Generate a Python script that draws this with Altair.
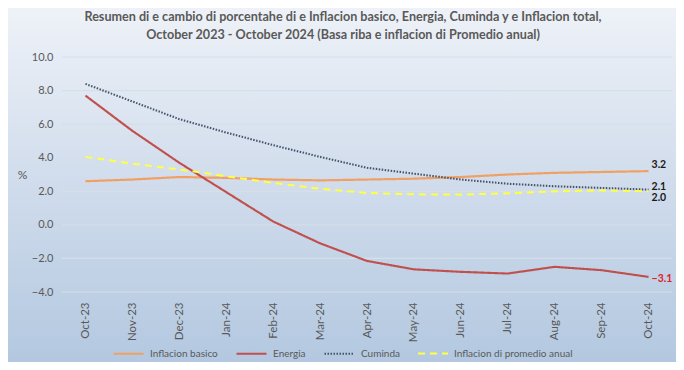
import altair as alt
import pandas as pd

months = ["Oct-23", "Nov-23", "Dec-23", "Jan-24", "Feb-24", "Mar-24", "Apr-24",
          "May-24", "Jun-24", "Jul-24", "Aug-24", "Sep-24", "Oct-24"]
series_names = ["Inflacion basico", "Energia", "Cuminda", "Inflacion di promedio anual"]
basico = [2.6, 2.7, 2.85, 2.8, 2.7, 2.65, 2.7, 2.75, 2.85, 3.0, 3.1, 3.15, 3.2]
energia = [7.7, 5.6, 3.7, 1.95, 0.2, -1.1, -2.15, -2.65, -2.8, -2.9, -2.5, -2.7, -3.1]
cuminda = [8.4, 7.35, 6.3, 5.5, 4.75, 4.05, 3.4, 3.05, 2.7, 2.45, 2.3, 2.2, 2.1]
promedio = [4.05, 3.65, 3.3, 2.9, 2.5, 2.15, 1.9, 1.82, 1.8, 1.88, 2.0, 2.05, 2.0]
y_ticks = [-4, -2, 0, 2, 4, 6, 8, 10]
title_lines = [
    "Resumen di e cambio di porcentahe di e Inflacion basico, Energia, Cuminda y e Inflacion total,",
    "October 2023 - October 2024 (Basa riba e inflacion di Promedio anual)",
]

colors = ["#F0A062", "#C0504D", "#44546A", "#FFFF44"]
dashes = [[1, 0], [1, 0], [1.5, 1.5], [7, 5]]
widths = [2.2, 2, 1.5, 3.8]

rows = []
for name, vals in zip(series_names, [basico, energia, cuminda, promedio]):
    for m, v in zip(months, vals):
        rows.append({"month": m, "series": name, "value": v})
df = pd.DataFrame(rows)

W, H = 610, 235
PL, PT, PR, PB = 54, 49, 4, 70
FONT = "Lato"
GRAY = "#595959"

bg = alt.Chart(pd.DataFrame({"a": [0]})).mark_rect(
    fill=alt.Gradient(
        gradient="linear",
        stops=[alt.GradientStop(color="#eef2f8", offset=0),
               alt.GradientStop(color="#d0dcec", offset=0.5),
               alt.GradientStop(color="#b3c8e0", offset=1)],
        x1=0, x2=0, y1=0, y2=1),
).encode(x=alt.value(-PL), x2=alt.value(W + PR), y=alt.value(-PT), y2=alt.value(H + PB))

yaxis = alt.Axis(values=y_ticks, format=".1f", grid=False, domain=False,
                 ticks=False, labelPadding=9, labelFont=FONT,
                 labelFontSize=11, labelColor=GRAY, zindex=1,
                 labelOverlap=False, tickCount=8,
                 title="%", titleAngle=0, titleX=-40, titleY=H / 2,
                 titleFont=FONT, titleFontSize=12, titleFontWeight="normal",
                 titleColor=GRAY, titleAlign="center", titleBaseline="middle")
yscale = alt.Scale(domain=[-4, 10], nice=False, zero=False)

grid = alt.Chart(pd.DataFrame({"value": y_ticks})).mark_rule(
    color="#d5dee9", strokeWidth=1.2
).encode(y=alt.Y("value:Q", scale=yscale, axis=yaxis), x=alt.value(0), x2=alt.value(W))

xenc = alt.X("month:N", sort=months,
             scale=alt.Scale(type="point", padding=0.5),
             axis=alt.Axis(title=None, labelAngle=270, domain=False, ticks=False,
                           labelPadding=10, labelFont=FONT, labelFontSize=11.5,
                           labelColor=GRAY, zindex=1, labelOverlap=False))
yenc = alt.Y("value:Q", scale=yscale, axis=yaxis)

lines = alt.Chart(df).mark_line(strokeCap="butt").encode(
    x=xenc,
    y=yenc,
    color=alt.Color("series:N", scale=alt.Scale(domain=series_names, range=colors),
                    legend=alt.Legend(title=None, orient="none", direction="horizontal",
                                      legendX=50, legendY=280, symbolType="stroke",
                                      symbolSize=900, labelFont=FONT, labelFontSize=10,
                                      labelColor=GRAY, columnPadding=14, labelOffset=5,
                                      zindex=1)),
    strokeDash=alt.StrokeDash("series:N", scale=alt.Scale(domain=series_names, range=dashes)),
    strokeWidth=alt.StrokeWidth("series:N", scale=alt.Scale(domain=series_names, range=widths)),
)

def end_label(name, dy, color):
    return alt.Chart(df).transform_filter(
        (alt.datum.series == name) & (alt.datum.month == months[-1])
    ).mark_text(align="left", baseline="middle", dx=3, dy=dy, font=FONT,
                fontSize=10.5, fontWeight="bold", color=color).encode(
        x=alt.X("month:N", sort=months), y=alt.Y("value:Q"),
        text=alt.Text("value:Q", format=".1f"))

labels = [
    end_label("Inflacion basico", -6, "#1a1a1a"),
    end_label("Cuminda", -3, "#1a1a1a"),
    end_label("Inflacion di promedio anual", 7, "#1a1a1a"),
    end_label("Energia", 2, "#E0202A"),
]

title_layers = [
    alt.Chart(pd.DataFrame({"t": [line]})).mark_text(
        align="center", baseline="middle", font=FONT, fontSize=12.6,
        fontWeight="bold", color="#595959").encode(
        text="t:N", x=alt.value(281), y=alt.value(-40 + 18 * i))
    for i, line in enumerate(title_lines)
]

chart = alt.layer(bg, grid, lines, *labels, *title_layers).properties(
    width=W, height=H,
    autosize=alt.AutoSizeParams(type="none"),
    padding={"left": PL, "top": PT, "right": PR, "bottom": PB},
).configure_view(stroke=None).configure(background="white").configure_axis(labelOverlap=False)

chart.save("out.html", embed_options={"renderer": "svg", "actions": False})
